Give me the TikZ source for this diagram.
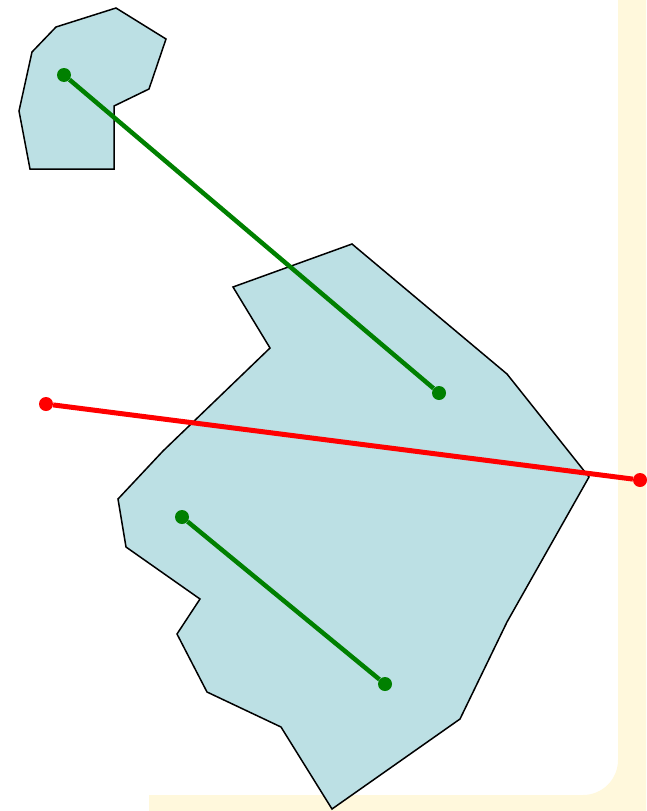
\documentclass[tikz,border=0pt]{standalone}
\definecolor{paper}{RGB}{255,248,220}
\definecolor{region}{RGB}{188,224,228}
\definecolor{segok}{RGB}{0,128,0}
\definecolor{segbad}{RGB}{255,0,0}
\tikzset{
    area/.style={draw=black,fill=region,line width=1.5pt,line join=miter},
    dot/.style={circle,fill=#1,inner sep=0pt,minimum size=14pt},
    seg/.style={line width=4.5pt,#1}
}
\begin{document}
\begin{tikzpicture}[x=1pt,y=-1pt]
    \useasboundingbox (0,0) rectangle (646,811);
    % fond
    \fill[paper] (618,0) -- (646,0) -- (646,811) -- (149,811) -- (149,795)
        -- (583,795) arc (90:0:35) -- cycle;
    % les deux regions
    \draw[area] (116,8) -- (166,39) -- (149,89) -- (114,106) -- (114,169)
        -- (30,169) -- (19,111) -- (32,52) -- (56,27) -- cycle;
    \draw[area] (352,244) -- (507,374) -- (589,477) -- (507,622) -- (460,719)
        -- (332,809) -- (281,727) -- (207,692) -- (177,634) -- (200,599)
        -- (126,547) -- (118,499) -- (163,451) -- (270,348) -- (233,287) -- cycle;
    % extremites des segments
    \foreach \p/\x/\y/\c in {A/64/75/segok,B/439/393/segok,C/182/517/segok,
        D/385/684/segok,E/46/404/segbad,F/640/480/segbad} {
        \node[dot=\c] (\p) at (\x,\y) {};
    }
    \draw[seg=segok] (A) -- (B);
    \draw[seg=segok] (C) -- (D);
    \draw[seg=segbad,line width=5pt] (E) -- (F);
\end{tikzpicture}
\end{document}
